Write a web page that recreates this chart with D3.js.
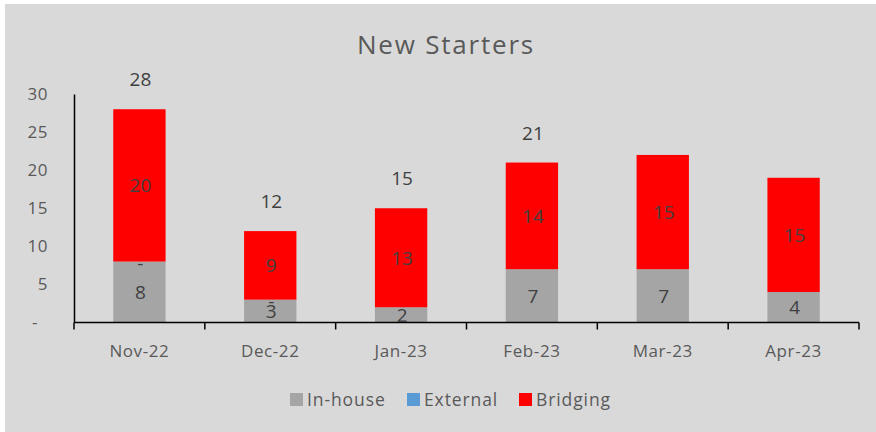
<!DOCTYPE html>
<html>
<head>
<meta charset="utf-8">
<script src="https://cdn.jsdelivr.net/npm/d3@7"></script>
<style>
  body { margin: 0; background: #fff; }
  text { font-family: "Open Sans", "Noto Sans", sans-serif; }
</style>
</head>
<body>
<div id="chart"></div>
<script>
// Chart data
const months = ["Nov-22", "Dec-22", "Jan-23", "Feb-23", "Mar-23", "Apr-23"];
const inHouse = [8, 3, 2, 7, 7, 4];
const external = [0, 0, 0, 0, 0, 0];
const bridging = [20, 9, 13, 14, 15, 15];
const totalLabels = [28, 12, 15, 21, null, null];
const externalLabelShown = [true, true, false, false, false, false];
const yTicks = [0, 5, 10, 15, 20, 25, 30];
const seriesNames = ["In-house", "External", "Bridging"];

// Dimensions
const width = 876;
const height = 432;
const margin = { top: 94, right: 17, bottom: 110, left: 74 };
const colors = { "In-house": "#a5a5a5", "External": "#5b9bd5", "Bridging": "#ff0000" };

const svg = d3.select("#chart").append("svg")
    .attr("width", width)
    .attr("height", height);

// Background panel
svg.append("rect")
    .attr("x", 5).attr("y", 4)
    .attr("width", width - 5).attr("height", height - 4)
    .attr("fill", "#d9d9d9");

svg.append("text")
    .attr("x", 446).attr("y", 54)
    .attr("text-anchor", "middle")
    .attr("font-size", 26)
    .attr("letter-spacing", 1.8)
    .attr("fill", "#595959")
    .text("New Starters");

const x = d3.scaleBand()
    .domain(months)
    .range([margin.left, width - margin.right])
    .paddingInner(0.6)
    .paddingOuter(0.3);

const y = d3.scaleLinear()
    .domain([0, 30])
    .range([height - margin.bottom + 0.5, margin.top]);

// Stack the series
const rows = months.map((m, i) => ({ month: m, "In-house": inHouse[i], "External": external[i], "Bridging": bridging[i] }));
const stacked = d3.stack().keys(seriesNames)(rows);

svg.append("g")
    .selectAll("g")
    .data(stacked)
    .enter()
    .append("g")
    .attr("fill", d => colors[d.key])
    .selectAll("rect")
    .data(d => d)
    .enter()
    .append("rect")
    .attr("x", d => x(d.data.month))
    .attr("y", d => y(d[1]))
    .attr("width", x.bandwidth())
    .attr("height", d => y(d[0]) - y(d[1]));

// Y axis
const yAxis = svg.append("g")
    .attr("transform", `translate(${margin.left},0)`)
    .call(d3.axisLeft(y).tickValues(yTicks).tickSize(0).tickPadding(26)
        .tickFormat(d => d === 0 ? "-" : d));
yAxis.select(".domain").attr("stroke", "#000").attr("stroke-width", 1.5);
yAxis.selectAll("text")
    .attr("font-size", 17)
    .attr("letter-spacing", 0.5)
    .attr("fill", "#595959")
    .attr("dx", d => d === 0 ? -10 : 0);

// X axis with boundary ticks
const xAxisY = y(0);
const xAxis = svg.append("g").attr("transform", `translate(0,${xAxisY})`);
xAxis.append("line")
    .attr("x1", margin.left).attr("x2", width - margin.right)
    .attr("stroke", "#000").attr("stroke-width", 1.5);
const boundaries = d3.range(months.length + 1).map(i => margin.left + i * (width - margin.left - margin.right) / months.length);
xAxis.selectAll(".tk")
    .data(boundaries)
    .enter()
    .append("line")
    .attr("x1", d => d).attr("x2", d => d)
    .attr("y1", 0).attr("y2", 7)
    .attr("stroke", "#000").attr("stroke-width", 1.5);
xAxis.selectAll(".lbl")
    .data(months)
    .enter()
    .append("text")
    .attr("x", d => x(d) + x.bandwidth() / 2)
    .attr("y", 34)
    .attr("text-anchor", "middle")
    .attr("font-size", 17)
    .attr("letter-spacing", 0.6)
    .attr("fill", "#595959")
    .text(d => d);

// Segment labels
const labelColor = "#404040";
function addLabel(xPos, yPos, txt) {
    svg.append("text")
        .attr("x", xPos).attr("y", yPos)
        .attr("text-anchor", "middle")
        .attr("dominant-baseline", "central")
        .attr("font-size", 19)
        .attr("fill", labelColor)
        .text(txt);
}
stacked.forEach(s => {
    s.forEach((d, i) => {
        const cx = x(months[i]) + x.bandwidth() / 2 + 1;
        if (s.key === "External") {
            if (externalLabelShown[i]) addLabel(cx, y(d[1]) + 1, "-");
        } else {
            addLabel(cx, y((d[0] + d[1]) / 2), d[1] - d[0]);
        }
    });
});

// Total labels
totalLabels.forEach((t, i) => {
    if (t === null) return;
    addLabel(x(months[i]) + x.bandwidth() / 2 + 1, y(t) - 30, t);
});

// Legend
const legendItems = [
    { name: "In-house", x: 290 },
    { name: "External", x: 407 },
    { name: "Bridging", x: 519 }
];
const legend = svg.append("g").attr("transform", "translate(0,399)");
legend.selectAll("rect")
    .data(legendItems)
    .enter()
    .append("rect")
    .attr("x", d => d.x).attr("y", -6)
    .attr("width", 13).attr("height", 13)
    .attr("fill", d => colors[d.name]);
legend.selectAll("text")
    .data(legendItems)
    .enter()
    .append("text")
    .attr("x", d => d.x + 17)
    .attr("y", 0)
    .attr("dominant-baseline", "central")
    .attr("font-size", 17.5)
    .attr("letter-spacing", 0.9)
    .attr("fill", "#595959")
    .text(d => d.name);
</script>
</body>
</html>
